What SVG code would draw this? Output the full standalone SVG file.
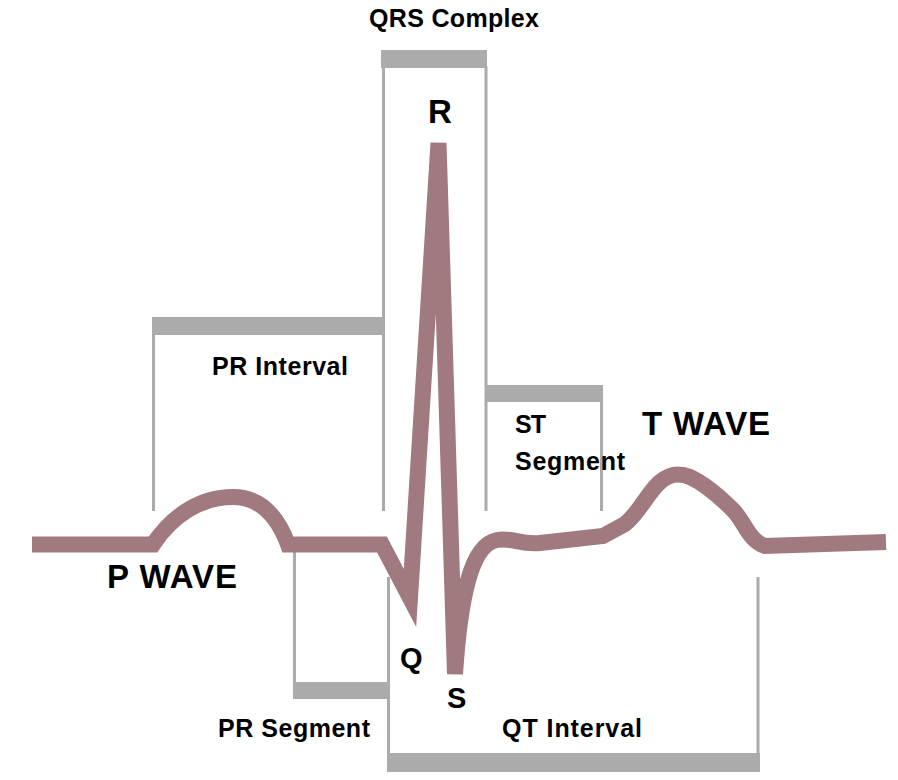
<svg xmlns="http://www.w3.org/2000/svg" width="898" height="780" viewBox="0 0 898 780">
<style>
.bar{fill:#ababab}
.ln{stroke:#ababab;stroke-width:3;fill:none}
.wave{fill:none;stroke:#a07a7f;stroke-width:16;stroke-linejoin:miter;stroke-miterlimit:4}
text{font-family:"Liberation Sans",Arial,sans-serif;font-weight:bold;fill:#000}
.s{font-size:25px}
.b{font-size:33px}
.m{font-size:29px}
</style>
<rect width="898" height="780" fill="#fff"/>
<g id="qrs-complex">
<rect class="bar" x="381" y="50" width="106" height="18"/>
<line class="ln" x1="383.5" y1="66" x2="383.5" y2="511"/>
<line class="ln" x1="486" y1="66" x2="486" y2="511"/>
<text class="s" x="369" y="27" textLength="170">QRS Complex</text>
</g>
<g id="pr-interval">
<rect class="bar" x="152" y="317" width="231" height="18"/>
<line class="ln" x1="153.5" y1="333" x2="153.5" y2="511"/>
<text class="s" x="212" y="375" textLength="136">PR Interval</text>
</g>
<g id="st-segment">
<rect class="bar" x="485" y="385" width="118" height="17"/>
<line class="ln" x1="601.5" y1="400" x2="601.5" y2="511"/>
<text class="s" x="515" y="433" textLength="31">ST</text>
<text class="s" x="515" y="470" textLength="110">Segment</text>
</g>
<g id="pr-segment">
<line class="ln" x1="294.5" y1="546" x2="294.5" y2="684"/>
<rect class="bar" x="293" y="682" width="96" height="17"/>
<text class="s" x="218" y="737" textLength="152">PR Segment</text>
</g>
<g id="qt-interval">
<line class="ln" x1="388.5" y1="577" x2="388.5" y2="755"/>
<line class="ln" x1="758" y1="577" x2="758" y2="755"/>
<rect class="bar" x="387" y="753" width="373" height="19"/>
<text class="s" x="502" y="737" textLength="140">QT Interval</text>
</g>
<g id="waveform">
<path class="wave" d="M32,544.5 L153,544.5 C172,516 200,497 233,497 C260,497 277,515 288,544.5 L382,544.5 L410,598 L438.5,143 L455,674 C460,600 470,545 497,540 C512,537 520,545 540,543 L603,536 L625,524 C640,512 648,492 660,482 C668,475 678,472 690,477 C705,484 720,497 733,510 C745,522 748,540 765,546 L886,542"/>
</g>
<g id="labels">
<text class="b" x="107" y="588" textLength="130">P WAVE</text>
<text class="b" x="642" y="435" textLength="128">T WAVE</text>
<text class="b" x="428" y="123" textLength="21">R</text>
<text class="m" x="400" y="668" textLength="24">Q</text>
<text class="m" x="447" y="708" textLength="20">S</text>
</g>
</svg>
